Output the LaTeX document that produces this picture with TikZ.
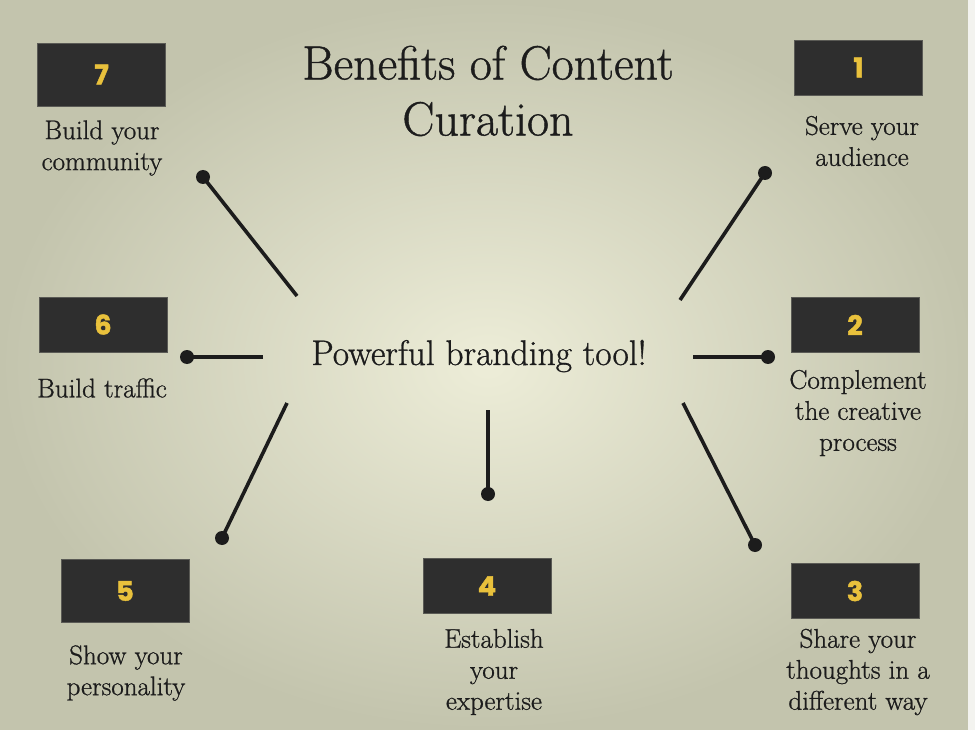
\documentclass[tikz,border=0pt]{standalone}
\usepackage{fontspec}
\newfontfamily\numfont[BoldFeatures={FakeBold=1.6}]{Poppins}
\newfontfamily\labfont[FakeBold=0.9]{Latin Modern Roman}
\definecolor{bgin}{HTML}{EDEDD8}
\definecolor{bgout}{HTML}{C3C4AD}
\definecolor{boxc}{HTML}{2E2E2E}
\definecolor{boxedge}{HTML}{5A5A55}
\definecolor{numc}{HTML}{E9C13C}
\definecolor{ink}{HTML}{1C1C1C}
\tikzset{
  numbox/.style={fill=boxc, draw=boxedge, line width=0.8pt, minimum width=128pt, minimum height=55pt, inner sep=0pt,
    text=numc, font=\numfont\bfseries\fontsize{27}{27}\selectfont},
  tallbox/.style={numbox, minimum height=63pt},
  label/.style={align=center, inner sep=0pt, text=ink, font=\labfont\fontsize{27}{31}\selectfont},
  dot/.style={circle, fill=ink, minimum size=14pt, inner sep=0pt},
  conn/.style={draw=ink, line width=3.6pt}
}
\begin{document}
\begin{tikzpicture}[x=1pt,y=-1pt]
\useasboundingbox (0,0) rectangle (975,730);
\shade[inner color=bgin, outer color=bgout] (0,0) rectangle (975,730);
\fill[white!80!bgout] (968,0) rectangle (975,730);

\node[align=center, inner sep=0pt, text=ink, font=\labfont\fontsize{48}{56}\selectfont] (title) at (488,91) {Benefits of Content\\Curation};
\node[inner sep=0pt, text=ink, font=\labfont\fontsize{35.5}{35}\selectfont] (center) at (479,356) {Powerful branding tool!};

% boxes
\node[tallbox] (b7) at (101.5,74.5) {7};
\node[numbox] (b1) at (858.5,67.5) {1};
\node[numbox] (b6) at (103,324.5) {6};
\node[numbox] (b2) at (855,325) {2};
\node[tallbox] (b5) at (125,591) {5};
\node[numbox] (b4) at (487,586) {4};
\node[numbox] (b3) at (855,591) {3};

% labels
\node[label] (l7) at (102,148) {Build your\\community};
\node[label] (l1) at (862,141) {Serve your\\audience};
\node[label] (l6) at (102,388) {Build traffic};
\node[label] (l2) at (858,413) {Complement\\the creative\\process};
\node[label] (l5) at (126,673) {Show your\\personality};
\node[label] (l4) at (494,672) {Establish\\your\\expertise};
\node[label] (l3) at (858,672) {Share your\\thoughts in a\\different way};

% connectors
\coordinate (c7) at (297,296);
\coordinate (c1) at (680,300);
\coordinate (c6) at (263,357);
\coordinate (c2) at (693,357);
\coordinate (c5) at (287,403);
\coordinate (c4) at (488,410);
\coordinate (c3) at (683,403);
\node[dot] (d7) at (203,177) {};
\node[dot] (d1) at (765,173) {};
\node[dot] (d6) at (187,357) {};
\node[dot] (d2) at (768,357) {};
\node[dot] (d5) at (222,538) {};
\node[dot] (d4) at (488,494) {};
\node[dot] (d3) at (755,545) {};
\draw[conn] (c7) -- (d7.center);
\draw[conn] (c1) -- (d1.center);
\draw[conn] (c6) -- (d6.center);
\draw[conn] (c2) -- (d2.center);
\draw[conn] (c5) -- (d5.center);
\draw[conn] (c4) -- (d4.center);
\draw[conn] (c3) -- (d3.center);
\end{tikzpicture}
\end{document}
